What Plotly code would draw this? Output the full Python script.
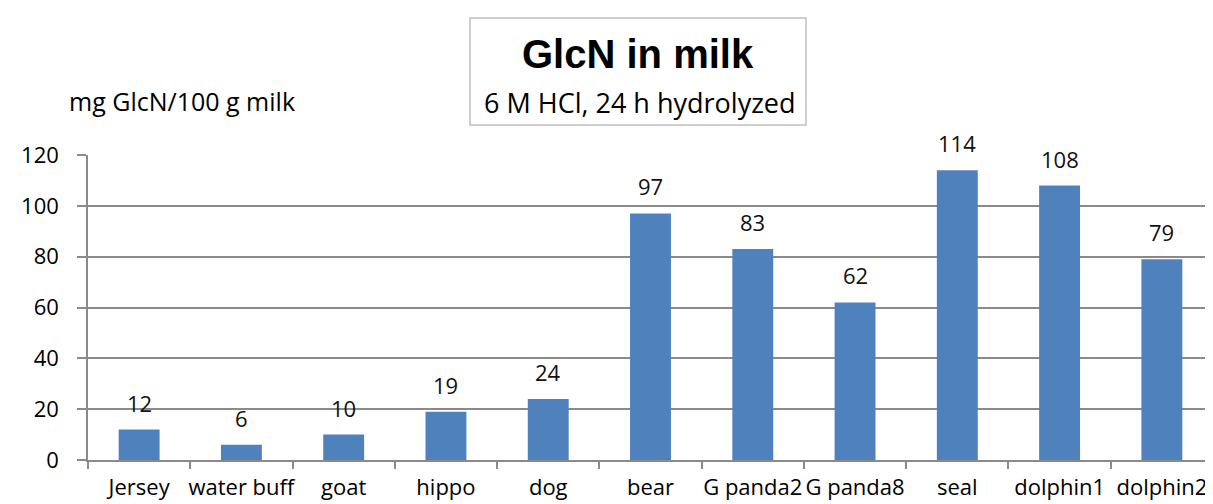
import plotly.graph_objects as go

categories = ["Jersey", "water buff", "goat", "hippo", "dog", "bear",
              "G panda2", "G panda8", "seal", "dolphin1", "dolphin2"]
values = [12, 6, 10, 19, 24, 97, 83, 62, 114, 108, 79]
y_ticks = [0, 20, 40, 60, 80, 100, 120]

title_text = "GlcN in milk"
subtitle_text = "6 M HCl, 24 h hydrolyzed"
y_label = "mg GlcN/100 g milk"

FONT = "Open Sans"
GRID = "#8a8a8a"

# page body has an 8px margin; figure is sized so it ends at the window edge
OFF = 8
W, H = 1213 - OFF, 504 - OFF
L, R, T, B = 88 - OFF, 0, 155 - OFF, 44
PW, PH = W - L - R, H - T - B


def px(xs):
    return (xs - OFF - L) / PW


def py(ys):
    return (H - B - (ys - OFF)) / PH


fig = go.Figure()
fig.add_trace(go.Bar(
    x=categories, y=values,
    marker=dict(color="#4F81BD", line=dict(width=0)),
    showlegend=False, hoverinfo="x+y",
))

for c, v in zip(categories, values):
    fig.add_annotation(x=c, y=v, xref="x", yref="y", text=str(v),
                       showarrow=False, yanchor="middle", yshift=27,
                       font=dict(family=FONT, size=22, color="#111111"))

# title box
fig.add_shape(type="rect", xref="paper", yref="paper",
              x0=px(470), x1=px(806), y0=py(125), y1=py(18),
              line=dict(color="#bfbfbf", width=1.5), fillcolor="white")
fig.add_annotation(xref="paper", yref="paper", x=px(638), y=py(54),
                   text="<b>" + title_text + "</b>", showarrow=False,
                   xanchor="center", yanchor="middle",
                   font=dict(family="Liberation Sans", size=40, color="#000000"))
fig.add_annotation(xref="paper", yref="paper", x=px(640), y=py(103),
                   text=subtitle_text, showarrow=False, xanchor="center", yanchor="middle",
                   font=dict(family=FONT, size=27, color="#000000"))
fig.add_annotation(xref="paper", yref="paper", x=px(67), y=py(101),
                   text=y_label, showarrow=False, xanchor="left", yanchor="middle",
                   font=dict(family=FONT, size=25, color="#000000"))

fig.update_layout(
    width=W, height=H,
    margin=dict(l=L, r=R, t=T, b=B, autoexpand=False),
    paper_bgcolor="white", plot_bgcolor="white",
    bargap=0.6,
    font=dict(family=FONT, size=22, color="#000000"),
)

fig.update_xaxes(
    type="category", tickson="boundaries", ticks="outside", ticklen=7,
    tickcolor=GRID, tickwidth=1.5, showline=True, linecolor=GRID, linewidth=1.5,
    showgrid=False, tickfont=dict(family=FONT, size=22, color="#000000"),
    tickangle=0, automargin=False, ticklabelstandoff=7,
)
fig.update_yaxes(
    range=[0, 120], tickvals=y_ticks, ticks="outside", ticklen=9,
    tickcolor=GRID, tickwidth=1.5, showline=True, linecolor=GRID, linewidth=1.5,
    showgrid=True, gridcolor=GRID, gridwidth=1.5, zeroline=False,
    tickfont=dict(family=FONT, size=22, color="#000000"),
    automargin=False, ticklabelstandoff=14,
)

fig.write_html("out.html")
